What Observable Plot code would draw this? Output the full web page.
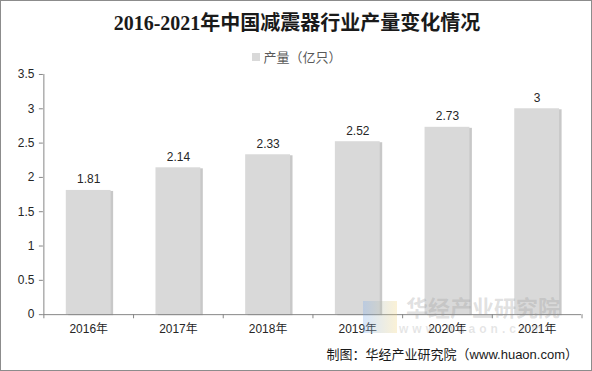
<!DOCTYPE html>
<html><head><meta charset="utf-8">
<script src="https://cdn.jsdelivr.net/npm/d3@7"></script>
<script src="https://cdn.jsdelivr.net/npm/@observablehq/plot@0.6"></script>
<style>
html,body{margin:0;padding:0;background:#fff;}
#wrap{position:relative;width:592px;height:371px;box-sizing:border-box;border:1px solid #8c8c8c;overflow:hidden;font-family:"Liberation Sans","Noto Sans CJK SC",sans-serif;}
#title{position:absolute;left:0;top:8px;width:592px;text-align:center;font-family:"Liberation Serif","Noto Sans CJK SC",serif;font-weight:bold;font-size:20px;color:#1a1a1a;line-height:28px;}
#legend{position:absolute;left:0;top:48px;width:592px;text-align:center;font-size:13px;color:#595959;line-height:18px;}
#legend span.sw{display:inline-block;width:8px;height:8px;background:#d9d9d9;margin-right:3px;vertical-align:1px;}
#chart{position:absolute;left:0;top:66px;}
#caption{position:absolute;right:13px;top:345px;font-size:13px;color:#1a1a1a;line-height:18px;}
#wm{position:absolute;left:405px;top:296px;font-size:22px;font-weight:bold;color:rgba(150,150,150,0.3);line-height:24px;}
#wm2{position:absolute;left:398px;top:321px;font-size:12px;font-weight:bold;color:rgba(150,150,150,0.25);letter-spacing:4px;line-height:14px;}
#logo{position:absolute;left:362px;top:300px;width:34px;height:32px;background:linear-gradient(90deg,rgba(120,170,240,0.3),rgba(240,210,120,0.3));}
</style></head>
<body>
<div id="wrap">
<div id="title">2016-2021年中国减震器行业产量变化情况</div>
<div id="legend"><span class="sw"></span>产量（亿只）</div>
<div id="chart"></div>
<div id="logo"></div>
<div id="wm">华经产业研究院</div>
<div id="wm2">www.huaon.com</div>
<div id="caption">制图：华经产业研究院（www.huaon.com）</div>
</div>
<script>
const years = ["2016年","2017年","2018年","2019年","2020年","2021年"];
const values = [1.81, 2.14, 2.33, 2.52, 2.73, 3];
const yTicks = [0, 0.5, 1, 1.5, 2, 2.5, 3, 3.5];

const data = years.map((y, i) => ({year: y, value: values[i]}));
const lastYear = [years[years.length - 1]];

const chart = Plot.plot({
  width: 592,
  height: 274,
  marginTop: 7,
  marginBottom: 26,
  marginLeft: 42,
  marginRight: 10,
  style: {fontFamily: "Liberation Sans, Noto Sans CJK SC, sans-serif", fontSize: "12px", color: "#404040", background: "transparent"},
  x: {domain: years, paddingInner: 0.5, paddingOuter: 0.25, label: null},
  y: {domain: [0, 3.5], label: null},
  marks: [
    Plot.barY(data, {x: "year", y: "value", fill: "#9a9a9a", fillOpacity: 0.55, dx: 2.5, dy: 1}),
    Plot.barY(data, {x: "year", y: "value", fill: "#d9d9d9"}),
    Plot.text(data, {x: "year", y: "value", text: d => String(d.value), dy: -11, fill: "#262626", fontSize: 12}),
    Plot.axisY({ticks: yTicks, tickFormat: d => String(d), tickSize: 4, tickPadding: 5, stroke: "#868686", fill: "#262626", fontSize: 12, label: null}),
    Plot.ruleX([0], {x: () => years[0], dx: -45, y1: 0, y2: 3.5, stroke: "#868686"}),
    Plot.ruleY([0], {stroke: "#868686"}),
    Plot.ruleX(years, {x: d => d, dx: -45, y1: 0, y2: -0.06, stroke: "#868686"}),
    Plot.ruleX(lastYear, {x: d => d, dx: 45, y1: 0, y2: -0.06, stroke: "#868686"}),
    Plot.axisX({tickSize: 0, tickPadding: 10, fill: "#262626", fontSize: 12, label: null})
  ]
});
document.getElementById("chart").appendChild(chart);
</script>
</body></html>
